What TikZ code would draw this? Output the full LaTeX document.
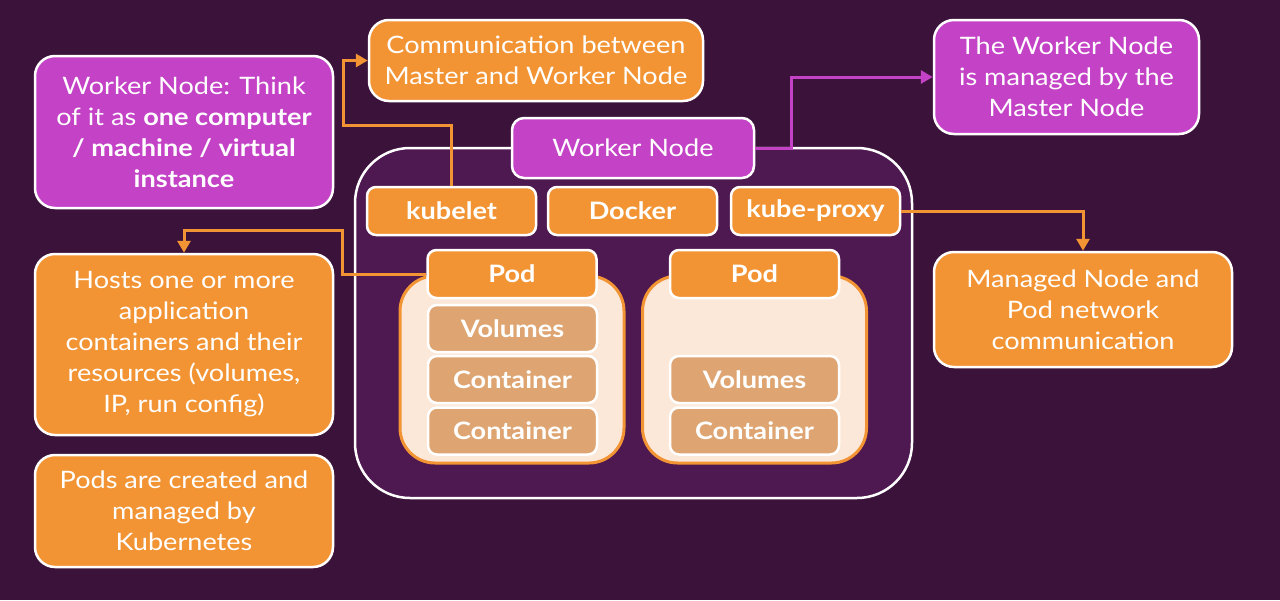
\documentclass[tikz,border=0pt]{standalone}
\usepackage{fontspec}
\setmainfont{Lato}[FakeStretch=1.13]
\usetikzlibrary{arrows.meta,positioning,calc}

\definecolor{bgpurple}{HTML}{3B1239}
\definecolor{innerpurple}{HTML}{4E1850}
\definecolor{korange}{HTML}{F29434}
\definecolor{kmagenta}{HTML}{C342C6}
\definecolor{podcream}{HTML}{FCE8D8}
\definecolor{podtan}{HTML}{DEA572}

\begin{document}
\begin{tikzpicture}[
  x=1pt,y=-1pt,
  note/.style={draw=white,line width=2.5pt,rounded corners=20pt,text=white,
    align=center,inner sep=0pt,font=\fontsize{24}{31}\selectfont},
  comp/.style={draw=white,line width=2.5pt,rounded corners=9pt,fill=korange,
    text=white,inner sep=0pt,minimum width=169pt,minimum height=48pt,
    font=\fontsize{24}{28}\selectfont\bfseries},
  part/.style={comp,fill=podtan,minimum height=47pt},
  podbody/.style={draw=korange,fill=podcream,line width=3pt,rounded corners=35pt,
    minimum width=224pt,minimum height=187pt,inner sep=0pt},
  link/.style={-{Triangle[length=12pt,width=13pt]},draw=korange,line width=3pt}
]
  \fill[bgpurple] (0,0) rectangle (1280,600);
  \useasboundingbox (0,0) rectangle (1280,600);

  % worker node frame
  \node[draw=white,fill=innerpurple,line width=2.5pt,rounded corners=55pt,
    minimum width=557pt,minimum height=350pt] (frame) at (633.5,323) {};
  \node[note,fill=kmagenta,rounded corners=12pt,minimum width=242pt,minimum height=60pt] (wnlabel) at (633,148) {Worker Node};

  % side notes
  \node[note,fill=kmagenta,minimum width=298pt,minimum height=152pt] (wninfo) at (184,132)
    {Worker Node: Think\\of it as \textbf{one computer}\\\textbf{/ machine / virtual}\\\textbf{instance}};
  \node[note,fill=korange,minimum width=334pt,minimum height=81pt] (comm) at (536,60.5)
    {Communication between\\Master and Worker Node};
  \node[note,fill=kmagenta,minimum width=265pt,minimum height=114pt] (managedby) at (1066.5,77)
    {The Worker Node\\is managed by the\\Master Node};
  \node[note,fill=korange,minimum width=298pt,minimum height=115pt] (netinfo) at (1083,309.5)
    {Managed Node and\\Pod network\\communication};
  \node[note,fill=korange,minimum width=298pt,minimum height=181pt] (hosts) at (184,344.5)
    {Hosts one or more\\application\\containers and their\\resources (volumes,\\IP, run config)};
  \node[note,fill=korange,minimum width=298pt,minimum height=112pt] (created) at (184,511)
    {Pods are created and\\managed by\\Kubernetes};

  % node components
  \node[comp] (kubelet) at (451.5,211) {kubelet};
  \node[comp] (docker) at (632.5,211) {Docker};
  \node[comp] (proxy) at (815.5,211) {kube-proxy};

  % pods
  \node[podbody] (bodyA) at (512,369.5) {};
  \node[podbody] (bodyB) at (754.5,369.5) {};
  \node[part] (volA) at (512.5,328.5) {Volumes};
  \node[part] (conA) at (512.5,379.5) {Container};
  \node[part] (conAA) at (512.5,431) {Container};
  \node[part] (volB) at (754.5,379.5) {Volumes};
  \node[part] (conB) at (754.5,431) {Container};

  % connectors
  \draw[link] (kubelet.north) -- ++(0,-60) -| ([xshift=-24pt]comm.west) -- (comm.west);
  \draw[link,draw=kmagenta] (wnlabel.east) -- ++(36,0) |- (managedby.west);
  \draw[link] (proxy.east) -| (netinfo.north);
  \node[comp] (podA) at (512,274) {Pod};
  \node[comp] (podB) at (754.5,274) {Pod};
  \draw[link] (podA.west) -- ++(-84,0) -- ++(0,-44) -| (hosts.north);
\end{tikzpicture}
\end{document}
